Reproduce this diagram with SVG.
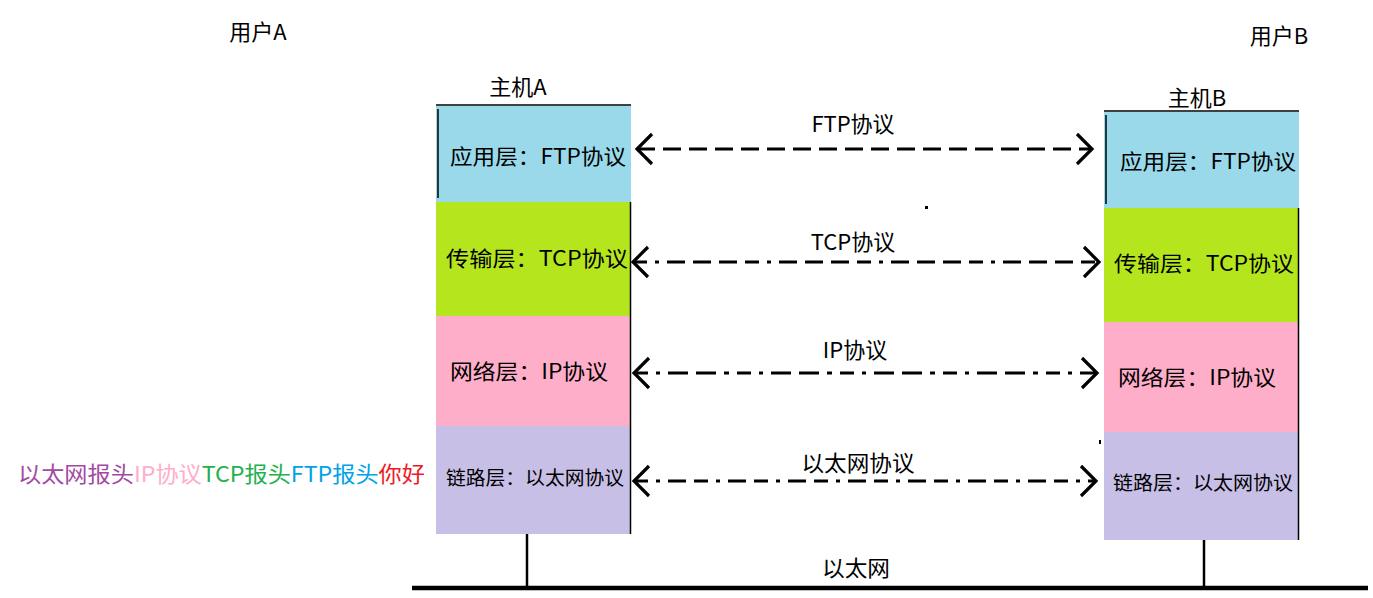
<svg xmlns="http://www.w3.org/2000/svg" width="1373" height="598" viewBox="0 0 1373 598">
<style>
text{font-family:"Microsoft YaHei","Noto Sans CJK SC","Noto Sans",sans-serif;fill:#000;}
.t{font-size:22px;text-anchor:middle;}
.l{font-size:21px;text-anchor:middle;}
.s{font-size:19px;text-anchor:middle;}
.edge{stroke:#000;stroke-width:1.5;fill:none;}
.arr{stroke:#000;stroke-width:3.2;fill:none;marker-start:url(#ah);marker-end:url(#ah);}
.bus{stroke:#000;stroke-width:2.5;fill:none;}
</style>
<defs>
<marker id="ah" markerUnits="userSpaceOnUse" markerWidth="40" markerHeight="40" viewBox="-20 -20 40 40" refX="0" refY="0" orient="auto-start-reverse">
<path d="M -15 -15 L 0 0 L -15 15" stroke="#000" stroke-width="3.2" fill="none"/>
</marker>
</defs>
<rect width="1373" height="598" fill="#fff"/>

<g id="userA"><text class="t" x="258" y="40">用户A</text></g>
<g id="userB"><text class="t" x="1279" y="44">用户B</text></g>

<g id="hostA">
<text class="t" x="518" y="95">主机A</text>
<rect x="436" y="106" width="195" height="96" fill="#99d9ea"/>
<rect x="436" y="202" width="195" height="114" fill="#b5e61d"/>
<rect x="436" y="316" width="195" height="110" fill="#ffaec9"/>
<rect x="436" y="426" width="195" height="108" fill="#c8bfe7"/>
<line class="edge" x1="436" y1="105" x2="631" y2="105"/>
<line class="edge" x1="438" y1="109" x2="438" y2="198"/>
<line class="edge" x1="630.5" y1="202" x2="630.5" y2="534"/>
<text class="l" x="538" y="164" textLength="176" lengthAdjust="spacingAndGlyphs">应用层：FTP协议</text>
<text class="l" x="537" y="266" textLength="182" lengthAdjust="spacingAndGlyphs">传输层：TCP协议</text>
<text class="l" x="529" y="379" textLength="158" lengthAdjust="spacingAndGlyphs">网络层：IP协议</text>
<text class="s" x="535" y="485" textLength="178" lengthAdjust="spacingAndGlyphs">链路层：以太网协议</text>
</g>

<g id="hostB">
<text class="t" x="1197" y="106">主机B</text>
<rect x="1104" y="112" width="195" height="96" fill="#99d9ea"/>
<rect x="1104" y="208" width="195" height="114" fill="#b5e61d"/>
<rect x="1104" y="322" width="195" height="110" fill="#ffaec9"/>
<rect x="1104" y="432" width="195" height="108" fill="#c8bfe7"/>
<line class="edge" x1="1104" y1="111" x2="1299" y2="111"/>
<line class="edge" x1="1106" y1="115" x2="1106" y2="204"/>
<line class="edge" x1="1298.5" y1="208" x2="1298.5" y2="540"/>
<text class="l" x="1208" y="169" textLength="176" lengthAdjust="spacingAndGlyphs">应用层：FTP协议</text>
<text class="l" x="1204" y="271" textLength="180" lengthAdjust="spacingAndGlyphs">传输层：TCP协议</text>
<text class="l" x="1197" y="385" textLength="158" lengthAdjust="spacingAndGlyphs">网络层：IP协议</text>
<text class="s" x="1203" y="490" textLength="180" lengthAdjust="spacingAndGlyphs">链路层：以太网协议</text>
</g>

<g id="packet">
<text x="18" y="482" style="font-size:22px" textLength="407" lengthAdjust="spacingAndGlyphs"><tspan fill="#a349a4">以太网报头</tspan><tspan fill="#ffaec9">IP协议</tspan><tspan fill="#22b14c">TCP报头</tspan><tspan fill="#00a2e8">FTP报头</tspan><tspan fill="#ed1c24">你好</tspan></text>
</g>

<g id="connectors">
<line class="arr" x1="637" y1="149" x2="1092" y2="149" stroke-dasharray="18 8"/>
<line class="arr" x1="633" y1="262" x2="1099" y2="262" stroke-dasharray="14 8 4 8 18 8 18 8 18 8"/>
<line class="arr" x1="634" y1="373" x2="1097" y2="373" stroke-dasharray="14 8 4 8 20 8 20 8 5 8"/>
<line class="arr" x1="634" y1="481" x2="1096" y2="481" stroke-dasharray="14 8 4 8 18 8"/>
<line class="bus" x1="527" y1="534" x2="527" y2="588"/>
<line class="bus" x1="1204" y1="540" x2="1204" y2="590"/>
<line x1="412" y1="588" x2="1368" y2="588" stroke="#000" stroke-width="4.5"/>
</g>

<g id="labels">
<text class="t" x="853" y="132">FTP协议</text>
<text class="t" x="853" y="250">TCP协议</text>
<text class="t" x="855" y="358">IP协议</text>
<text class="t" x="858" y="471" textLength="113" lengthAdjust="spacingAndGlyphs">以太网协议</text>
<text class="t" x="856" y="576" textLength="68" lengthAdjust="spacingAndGlyphs">以太网</text>
</g>

<g id="marks">
<rect x="925" y="206" width="3" height="3" fill="#000"/>
<rect x="1099" y="440" width="2" height="4" fill="#000"/>
</g>
</svg>
